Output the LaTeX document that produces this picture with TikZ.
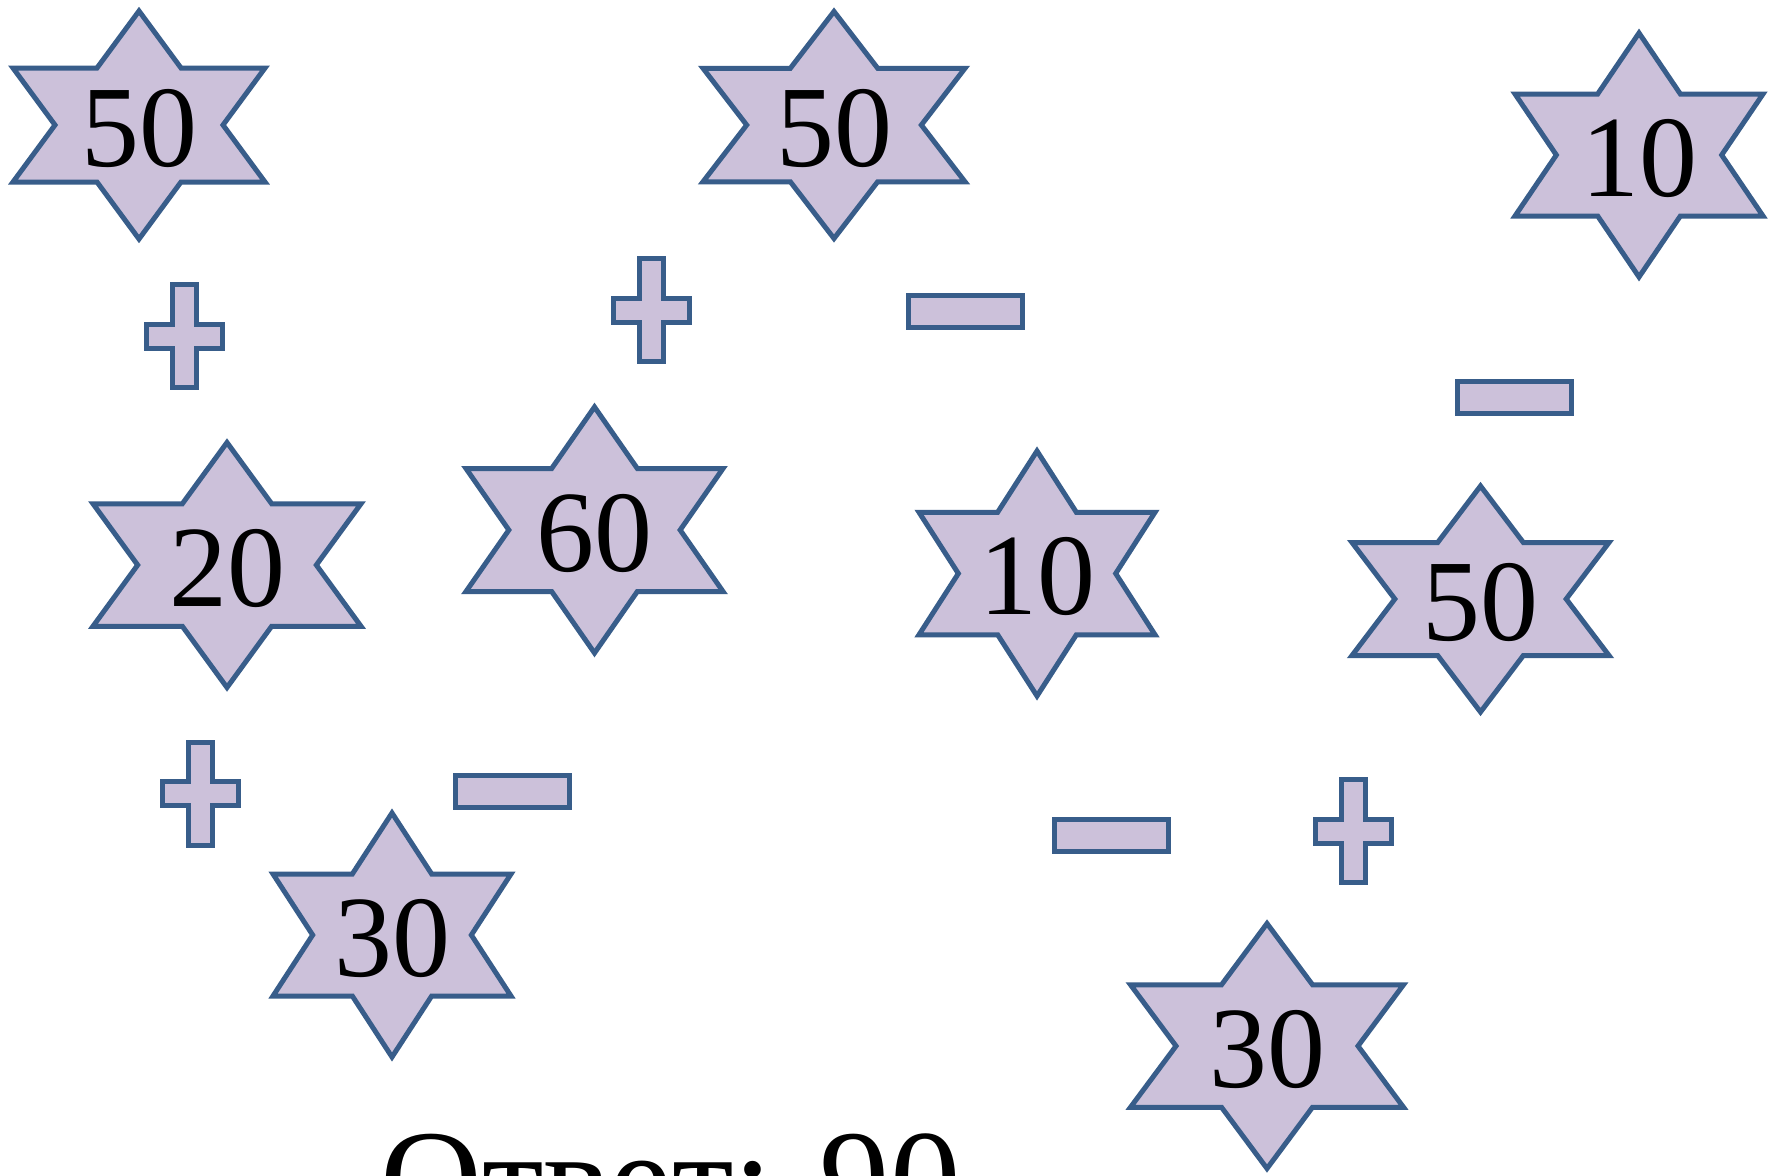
\documentclass[tikz,border=0pt]{standalone}
\usepackage{fontspec}
\setmainfont{Liberation Serif}
\definecolor{starfill}{HTML}{CCC1DA}
\definecolor{stardraw}{HTML}{385D8A}
\tikzset{
  shapestyle/.style={fill=starfill, draw=stardraw, line width=5pt, line join=miter},
  numstyle/.style={font=\fontsize{116}{116}\selectfont, inner sep=0pt, text=black},
  minusbox/.style={shapestyle, rectangle, minimum width=114pt, minimum height=32pt, inner sep=0pt},
  answerstyle/.style={font=\fontsize{141}{141}\selectfont, inner sep=0pt, text=black},
}
% #1 name, #2 cx, #3 cy, #4 half width, #5 half height, #6 label
\newcommand{\hexstar}[6]{%
  \draw[shapestyle]
    ({#2},{#3-#5}) -- ({#2+#4/3},{#3-#5/2}) -- ({#2+#4},{#3-#5/2}) --
    ({#2+2*#4/3},{#3}) -- ({#2+#4},{#3+#5/2}) -- ({#2+#4/3},{#3+#5/2}) --
    ({#2},{#3+#5}) -- ({#2-#4/3},{#3+#5/2}) -- ({#2-#4},{#3+#5/2}) --
    ({#2-2*#4/3},{#3}) -- ({#2-#4},{#3-#5/2}) -- ({#2-#4/3},{#3-#5/2}) -- cycle;
  \node[numstyle] (#1) at ({#2},{#3+3}) {#6};%
}
% #1 name, #2 cx, #3 cy
\newcommand{\plussign}[3]{%
  \draw[shapestyle]
    ({#2-12},{#3-51.5}) -- ({#2+12},{#3-51.5}) -- ({#2+12},{#3-12}) --
    ({#2+38},{#3-12}) -- ({#2+38},{#3+12}) -- ({#2+12},{#3+12}) --
    ({#2+12},{#3+51.5}) -- ({#2-12},{#3+51.5}) -- ({#2-12},{#3+12}) --
    ({#2-38},{#3+12}) -- ({#2-38},{#3-12}) -- ({#2-12},{#3-12}) -- cycle;
  \coordinate (#1) at ({#2},{#3});%
}
\begin{document}
\begin{tikzpicture}[x=1pt, y=-1pt]
  \useasboundingbox (0,0) rectangle (1768,1175);
  \clip (0,0) rectangle (1768,1175);
  \fill[white] (0,0) rectangle (1768,1175);

  \hexstar{sA}{139}{125}{126}{114}{50}
  \hexstar{sB}{834}{125}{131}{113.5}{50}
  \hexstar{sC}{1639}{155}{124}{122}{10}
  \hexstar{sD}{227}{565}{134}{122.5}{20}
  \hexstar{sE}{594.5}{530}{128.5}{123}{60}
  \hexstar{sF}{1037}{573.5}{118}{122.5}{10}
  \hexstar{sG}{1480.5}{599}{128.5}{113}{50}
  \hexstar{sH}{392}{935}{119}{122}{30}
  \hexstar{sI}{1267}{1046}{136.5}{122.5}{30}

  \plussign{p1}{184.5}{336}
  \plussign{p2}{651.5}{310}
  \plussign{p3}{200.5}{793.5}
  \plussign{p4}{1353}{831}

  \node[minusbox] (m1) at (965.5,311) {};
  \node[minusbox] (m2) at (1514.5,397) {};
  \node[minusbox] (m3) at (512,791.5) {};
  \node[minusbox] (m4) at (1111,835.5) {};

  \node[answerstyle, anchor=base west] (answer) at (380,1227) {Ответ: 90};
\end{tikzpicture}
\end{document}
